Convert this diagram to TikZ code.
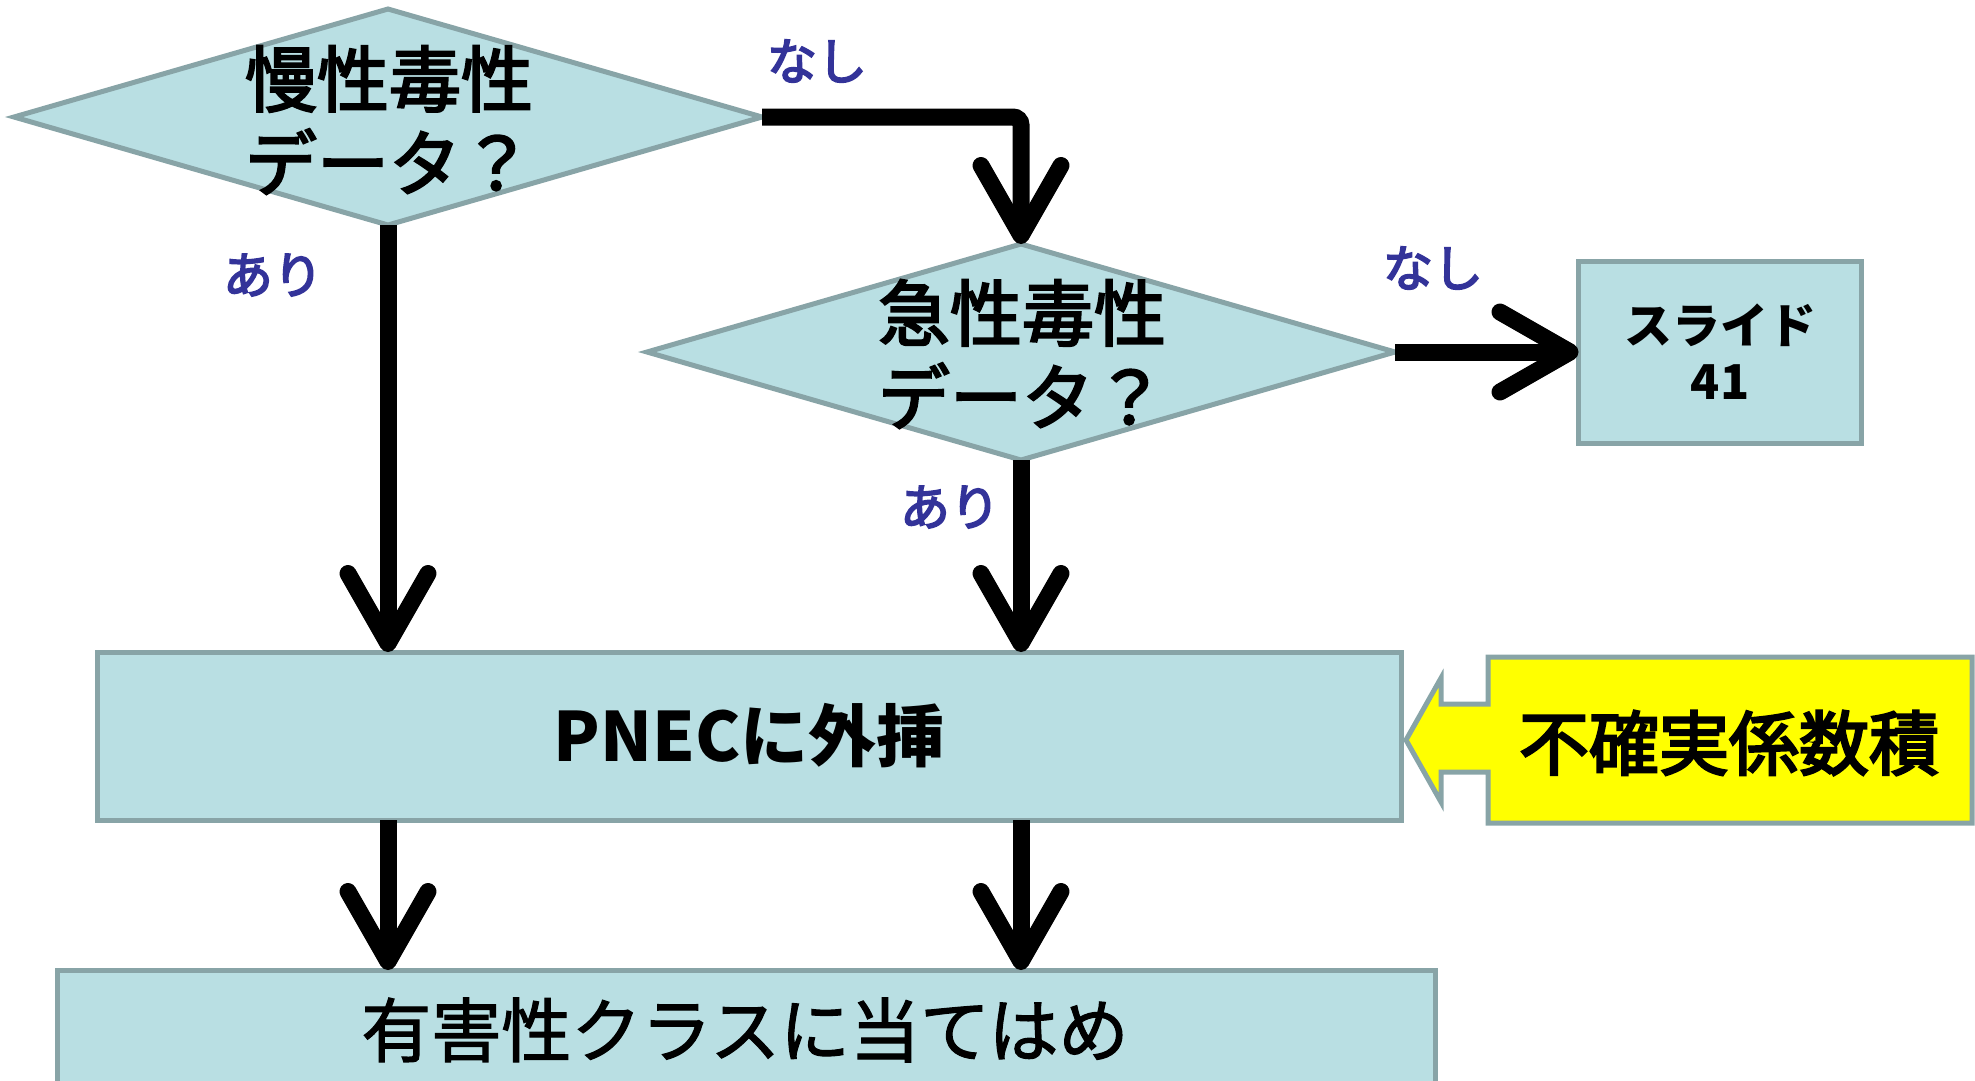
\documentclass[tikz,border=0pt]{standalone}
\usepackage{fontspec}
\setmainfont{Noto Sans CJK JP}
\newfontfamily\medfont[FakeBold=3.5]{Noto Sans CJK JP}
\newfontfamily\semifont[FakeBold=3]{Noto Sans CJK JP}
\newfontfamily\regfont[FakeBold=1.6]{Noto Sans CJK JP}
\usetikzlibrary{shapes.geometric,arrows.meta}
\definecolor{boxfill}{RGB}{185,223,227}
\definecolor{boxline}{RGB}{136,164,167}
\definecolor{lblblue}{RGB}{51,51,153}
\definecolor{callyellow}{RGB}{255,255,0}
\begin{document}
\begin{tikzpicture}[x=1pt,y=-1pt,
  dia/.style={shape=diamond, draw=boxline, fill=boxfill, line width=5pt, minimum width=748pt, minimum height=216pt, inner sep=0pt, outer sep=0pt},
  rbox/.style={shape=rectangle, draw=boxline, fill=boxfill, line width=5pt, inner sep=0pt, outer sep=0pt},
  dtext/.style={align=center, font=\fontsize{72}{84}\selectfont\semifont},
  lbl/.style={text=lblblue, font=\fontsize{50}{60}\selectfont\medfont},
  arr/.style={line width=17pt, -{Straight Barb[length=70pt,width=80pt,round]}}
]
\useasboundingbox (0,0) rectangle (1975,1080);
\clip (0,0) rectangle (1975,1080);

% decision diamonds
\node[dia] (d1) at (388,117) {};
\node[dtext] (d1t) at (389,120) {慢性毒性\\データ？};
\node[dia] (d2) at (1021,352) {};
\node[dtext] (d2t) at (1022,354) {急性毒性\\データ？};

% boxes
\node[rbox, minimum width=283pt, minimum height=182pt, align=center,
      font=\fontsize{48}{56}\selectfont\bfseries] (slide) at (1720,352) {スライド\\41};
\node[rbox, minimum width=1304pt, minimum height=168pt,
      font=\fontsize{68}{78}\selectfont\bfseries] (pnec) at (749,736) {PNECに外挿};
\node[rbox, minimum width=1378pt, minimum height=180pt] (cls) at (746,1060) {};
\node[font=\fontsize{70}{80}\selectfont\regfont] (clst) at (745,1030) {有害性クラスに当てはめ};

% yellow callout
\path[draw=boxline, fill=callyellow, line width=5pt]
  (1488,657) -- (1972,657) -- (1972,823) -- (1488,823) -- (1488,772)
  -- (1441,772) -- (1441,802) -- (1406,740) -- (1441,678) -- (1441,704)
  -- (1488,704) -- cycle;
\node[font=\fontsize{70}{80}\selectfont\medfont] (uf) at (1729,743) {不確実係数積};

% labels
\node[lbl] (n1) at (817,61) {なし};
\node[lbl] (a1) at (273,275) {あり};
\node[lbl] (n2) at (1433,268) {なし};
\node[lbl] (a2) at (950,507) {あり};

% connectors
\draw[arr] (d1.south) -- (d1.south |- pnec.north);
\draw[arr, rounded corners=8pt] (d1.east) -| (d2.north);
\draw[arr] (d2.south) -- (d2.south |- pnec.north);
\draw[arr] (d2.east) -- (slide.west);
\draw[arr] (d1.south |- pnec.south) -- (d1.south |- cls.north);
\draw[arr] (d2.south |- pnec.south) -- (d2.south |- cls.north);
\end{tikzpicture}
\end{document}
